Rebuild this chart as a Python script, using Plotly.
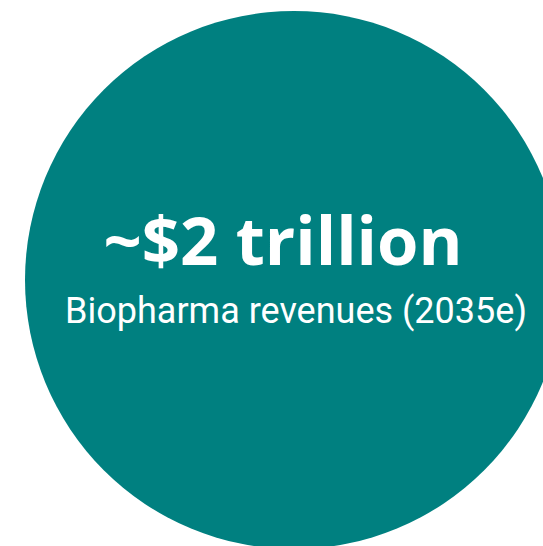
import plotly.graph_objects as go

# bubble: centre and radius in pixel units of the 543x546 canvas
bubble_x = [294]
bubble_y = [280]
bubble_r = [269]

headline = ["~$2 trillion"]
caption = ["Biopharma revenues (2035e)"]
headline_pos = [(283, 248)]
caption_pos = [(296, 314)]

fig = go.Figure()

for cx, cy, r in zip(bubble_x, bubble_y, bubble_r):
    fig.add_shape(
        type="circle",
        xref="x", yref="y",
        x0=cx - r, x1=cx + r, y0=cy - r, y1=cy + r,
        fillcolor="#008080",
        line=dict(width=0),
        layer="below",
    )

fig.add_trace(go.Scatter(
    x=[p[0] for p in headline_pos],
    y=[p[1] for p in headline_pos],
    mode="text",
    text=headline,
    textfont=dict(family="Open Sans", size=67, color="white", weight="bold"),
    hoverinfo="skip",
))

fig.add_trace(go.Scatter(
    x=[p[0] for p in caption_pos],
    y=[p[1] for p in caption_pos],
    mode="text",
    text=caption,
    textfont=dict(family="Roboto", size=36, color="white"),
    hoverinfo="skip",
))

fig.update_layout(
    width=543,
    height=546,
    margin=dict(l=0, r=0, t=0, b=0),
    paper_bgcolor="white",
    plot_bgcolor="white",
    showlegend=False,
    xaxis=dict(range=[0, 543], visible=False, fixedrange=True),
    yaxis=dict(range=[546, 0], visible=False, fixedrange=True),
)

fig.write_html("out.html", config={"displayModeBar": False},
               post_script="document.body.style.margin = '0';")
